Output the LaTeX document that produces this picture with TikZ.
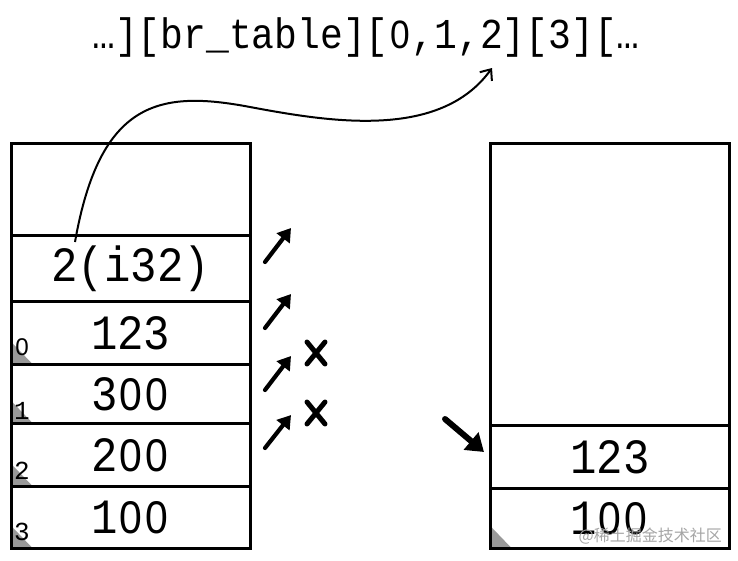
\documentclass[tikz,border=0pt]{standalone}
\usepackage{fontspec}
\setmonofont{Liberation Mono}
\newfontfamily\zerofont{Liberation Sans}[Scale=0.93]
\newfontfamily\cjk{Noto Sans CJK SC}
\newcommand\zr{\makebox[0.6em]{\zerofont 0}}
\newcommand\tall[1]{\scalebox{1}[1.12]{#1}}
\usetikzlibrary{arrows.meta,backgrounds}
\definecolor{tri}{HTML}{999999}
\begin{document}
\begin{tikzpicture}[x=1pt,y=-1pt,
  cell/.style={draw, line width=2.6pt, minimum width=239pt, inner sep=0pt, anchor=north west, font=\fontsize{44}{44}\selectfont\ttfamily},
  idx/.style={anchor=south west, inner sep=0pt, font=\fontsize{26}{26}\selectfont\ttfamily},
  corner/.style={fill=tri},
  sarrow/.style={line width=4.2pt, line cap=round, -{Triangle[length=13pt,width=16pt]}},
  barrow/.style={line width=6pt, line cap=round, -{Triangle[length=17pt,width=22pt]}},
  crossline/.style={line width=5pt, line cap=round},
  jump/.style={line width=2pt, -{Straight Barb[length=9pt,width=15pt]}}]
\useasboundingbox (0,0) rectangle (738,560);

% top code line
\node[font=\fontsize{38}{38}\selectfont\ttfamily, inner sep=0pt] (code) at (366,37) {\tall{…][br\_table][\zr,1,2][3][…}};

% left stack
\node[cell, minimum height=92pt] (l0) at (10,142) {};
\node[cell, minimum height=66pt] (l1) at (10,234) {\tall{2(i32)}};
\node[cell, minimum height=63pt] (l2) at (10,300) {\tall{123}};
\node[cell, minimum height=59pt] (l3) at (10,363) {\tall{3\zr\zr}};
\node[cell, minimum height=63pt] (l4) at (10,422) {\tall{2\zr\zr}};
\node[cell, minimum height=62pt] (l5) at (10,485) {\tall{1\zr\zr}};

% right stack
\node[cell, minimum height=282pt] (r0) at (489,142) {};
\node[cell, minimum height=63pt] (r1) at (489,424) {\tall{123}};
\node[cell, minimum height=60pt] (r2) at (489,487) {\tall{1\zr\zr}};

\begin{scope}[on background layer]
  \fill[white] (0,0) rectangle (738,560);
  \foreach \c in {l2,l3,l4,l5,r2}{
    \fill[corner] (\c.south west) -- ++(0,-25) -- ++(24,25) -- cycle;
  }
\end{scope}

% index labels
\path (l2.south west) ++(4,-10) node[idx] (i0) {\zr};
\path (l3.south west) ++(4,-5) node[idx] (i1) {1};
\path (l4.south west) ++(4,-8) node[idx] (i2) {2};
\path (l5.south west) ++(4,-9) node[idx] (i3) {3};

% curved jump arrow
\coordinate (src) at (75,242);
\coordinate (tip) at (492,68);
\draw[jump] (src) .. controls (100,100) and (160,90) .. (250,107)
                  .. controls (330,122) and (440,140) .. (tip);

% small arrows
\coordinate (a1s) at (265,262); \coordinate (a1e) at (291,228);
\coordinate (a2s) at (265,328); \coordinate (a2e) at (291,294);
\coordinate (a3s) at (265,390); \coordinate (a3e) at (291,356);
\coordinate (a4s) at (265,448); \coordinate (a4e) at (291,415);
\foreach \i in {1,2,3,4}{ \draw[sarrow] (a\i s) -- (a\i e); }

% crosses
\coordinate (x1) at (316,353);
\coordinate (x2) at (316,413);
\foreach \x in {x1,x2}{
  \draw[crossline] (\x) ++(-9,-11) -- ++(18,22);
  \draw[crossline] (\x) ++(9,-11) -- ++(-18,22);
}

% big arrow
\coordinate (bs) at (445,419);
\coordinate (be) at (484,452);
\draw[barrow] (bs) -- (be);

% watermark
\node[anchor=east, inner sep=0pt, text=black!35, font=\fontsize{16}{16}\selectfont\cjk] (wm) at (722,536) {@稀土掘金技术社区};
\end{tikzpicture}
\end{document}
